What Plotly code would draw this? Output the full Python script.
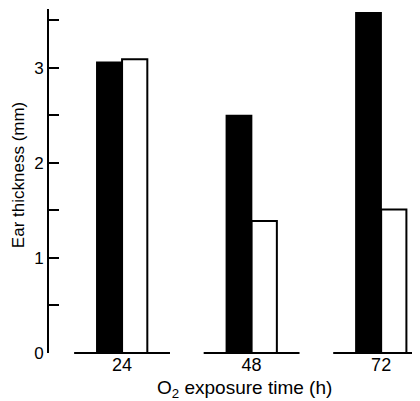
import plotly.graph_objects as go

categories = ["24", "48", "72"]
black_values = [3.06, 2.50, 3.58]
white_values = [3.09, 1.39, 1.51]
y_ticks = [0, 1, 2, 3]

FONT = "Liberation Sans"

fig = go.Figure()
fig.add_trace(go.Bar(x=categories, y=black_values, marker=dict(color="black", line=dict(color="black", width=1.5)),
                     showlegend=False))
fig.add_trace(go.Bar(x=categories, y=white_values, marker=dict(color="white", line=dict(color="black", width=2)),
                     showlegend=False))

shapes = []
for i in range(len(categories)):
    shapes.append(dict(type="line", xref="x", yref="paper", x0=i - 0.37, x1=i + 0.37, y0=0, y1=0,
                       line=dict(color="black", width=2), layer="above"))

fig.update_layout(
    template="none",
    width=412, height=393,
    margin=dict(l=41, r=0, t=1, b=48, autoexpand=False),
    paper_bgcolor="white", plot_bgcolor="white",
    barmode="group", bargap=0.61, bargroupgap=0,
    font=dict(family=FONT, size=17, color="black"),
    shapes=shapes,
    xaxis=dict(type="category", range=[-0.564, 2.30], automargin=False, showline=False, showgrid=False,
               zeroline=False, ticks="", tickfont=dict(size=18), ticklabelstandoff=-1),
    yaxis=dict(range=[0, 3.62], automargin=False, showline=True, linecolor="black", linewidth=2, showgrid=False,
               zeroline=False, ticks="inside", ticklen=10, tickwidth=1.5, tickcolor="black",
               tickvals=y_ticks, tickfont=dict(size=17),
               minor=dict(dtick=0.5, tick0=0, ticks="inside", ticklen=10, tickwidth=1.5, tickcolor="black",
                          showgrid=False)),
    annotations=[
        dict(text="Ear thickness (mm)", xref="paper", yref="paper", x=-0.0836, y=0.517, textangle=-90,
             showarrow=False, xanchor="center", yanchor="middle", font=dict(size=17)),
        dict(text="O<sub>2</sub> exposure time (h)", xref="paper", yref="paper", x=0.526, y=-0.104,
             showarrow=False, xanchor="center", yanchor="middle", font=dict(size=19)),
    ],
)

fig.write_html("out.html")
